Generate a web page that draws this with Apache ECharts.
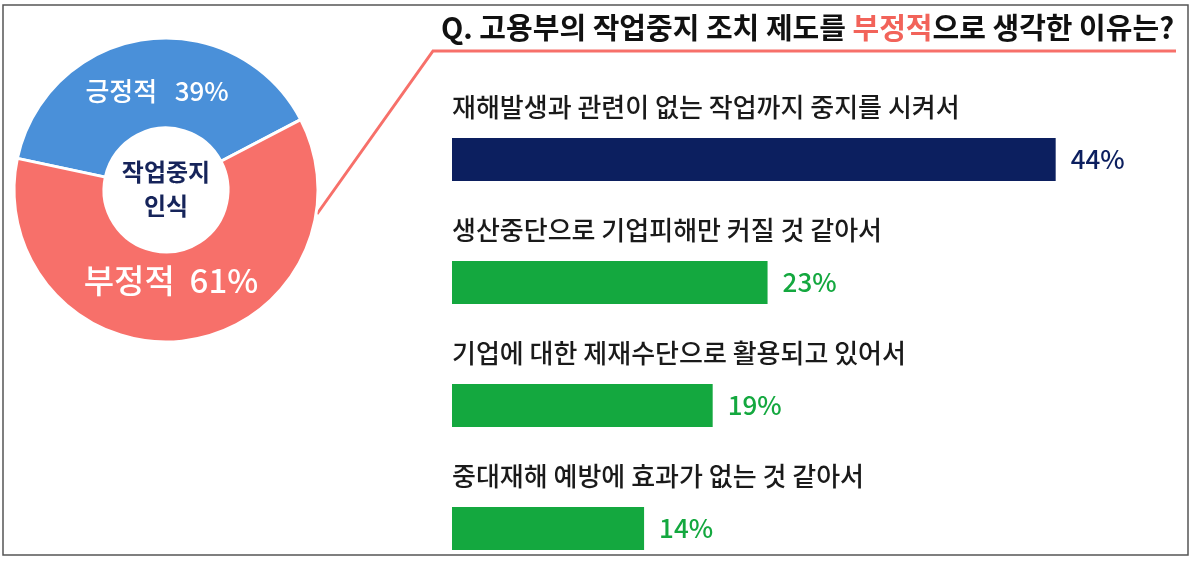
<!DOCTYPE html>
<html>
<head>
<meta charset="utf-8">
<script src="https://cdn.jsdelivr.net/npm/echarts@6/dist/echarts.min.js"></script>
<style>
    html, body { margin: 0; padding: 0; background: #fff; }
    #main { width: 1192px; height: 562px; }
</style>
</head>
<body>
<div id="main"></div>
<script>
// 작업중지 인식 (도넛)
var pieNames = ['긍정적', '부정적'];
var pieValues = [39, 61];

// 부정적으로 생각한 이유 (막대)
var reasons = [
    '재해발생과 관련이 없는 작업까지 중지를 시켜서',
    '생산중단으로 기업피해만 커질 것 같아서',
    '기업에 대한 제재수단으로 활용되고 있어서',
    '중대재해 예방에 효과가 없는 것 같아서'
];
var reasonValues = [44, 23, 19, 14];

var FONT = '"Noto Sans CJK KR", "Noto Sans", sans-serif';
var NAVY = '#0c1f5f';
var GREEN = '#14a83f';
var RED = '#f7706a';
var BLUE = '#4a90d9';

var pieColors = [BLUE, RED];
var pieFont = [26, 33];
var pieSpace = ['   ', '  '];
// 도넛 안 글자 위치 보정 (상, 우, 하, 좌)
var piePad = [[20, 0, 0, 12], [0, 20, 38, 0]];

var myChart = echarts.init(document.getElementById('main'));

var option = {
    backgroundColor: '#fff',
    animation: false,
    textStyle: {fontFamily: FONT},
    title: {
        text: 'Q. 고용부의 작업중지 조치 제도를 {r|부정적}으로 생각한 이유는?',
        left: 436,
        top: 8,
        textStyle: {
            fontFamily: FONT,
            fontSize: 29,
            fontWeight: 'bold',
            color: '#111',
            rich: {
                r: {fontFamily: FONT, fontSize: 29, fontWeight: 'bold', color: '#f2635a'}
            }
        }
    },
    grid: {
        left: 452,
        top: 98,
        width: 686,
        height: 492,
        outerBoundsMode: 'none'
    },
    xAxis: {
        type: 'value',
        min: 0,
        max: 50,
        show: false
    },
    yAxis: {
        type: 'category',
        inverse: true,
        data: reasons,
        axisLine: {show: false},
        axisTick: {show: false},
        splitLine: {show: false},
        axisLabel: {
            inside: true,
            margin: 0,
            formatter: function (v) {
                return '{a|' + v + '}';
            },
            rich: {
                a: {
                    fontFamily: FONT,
                    fontSize: 26,
                    fontWeight: 500,
                    color: '#1a1a1a',
                    padding: [0, 0, 104, 0]
                }
            }
        }
    },
    series: [
        {
            name: '인식',
            type: 'pie',
            center: [166, 190],
            radius: [62, 152],
            startAngle: 168,
            clockwise: true,
            avoidLabelOverlap: false,
            itemStyle: {borderColor: '#fff', borderWidth: 3},
            label: {
                position: 'inside',
                color: '#fff',
                fontFamily: FONT
            },
            labelLine: {show: false},
            data: pieNames.map(function (n, i) {
                return {
                    name: n,
                    value: pieValues[i],
                    itemStyle: {color: pieColors[i]},
                    label: {
                        formatter: '{t|' + n + pieSpace[i] + pieValues[i] + '%}',
                        rich: {
                            t: {
                                fontFamily: FONT,
                                fontSize: pieFont[i],
                                fontWeight: 500,
                                color: '#fff',
                                padding: piePad[i]
                            }
                        }
                    }
                };
            })
        },
        {
            name: '이유',
            type: 'bar',
            barWidth: 43,
            data: reasonValues.map(function (v, i) {
                var c = i === 0 ? NAVY : GREEN;
                return {
                    value: v,
                    itemStyle: {color: c},
                    label: {color: c}
                };
            }),
            label: {
                show: true,
                position: 'right',
                distance: 15,
                fontFamily: FONT,
                fontSize: 26,
                fontWeight: 500,
                formatter: '{c}%'
            }
        }
    ],
    graphic: [
        {
            type: 'rect',
            shape: {x: 3, y: 5, width: 1185, height: 550},
            style: {fill: 'none', stroke: '#555', lineWidth: 1.5},
            silent: true
        },
        {
            type: 'polyline',
            shape: {points: [[317, 214], [433, 51], [1176, 51]]},
            style: {stroke: RED, lineWidth: 3, fill: 'none'},
            silent: true
        },
        {
            type: 'text',
            x: 166,
            y: 189,
            style: {
                text: '작업중지\n인식',
                align: 'center',
                verticalAlign: 'middle',
                fontFamily: FONT,
                fontSize: 24,
                fontWeight: 'bold',
                lineHeight: 34,
                fill: '#16245a'
            }
        }
    ]
};

myChart.setOption(option);
</script>
</body>
</html>
